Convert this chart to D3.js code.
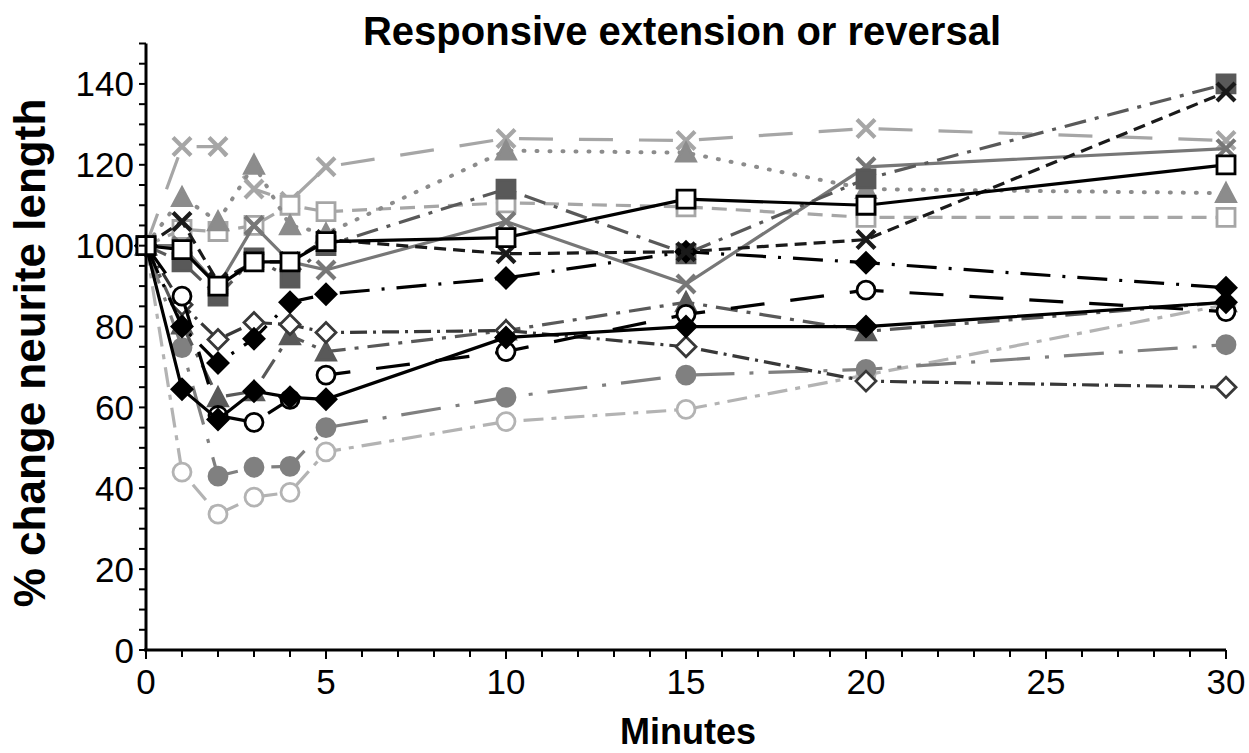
<!DOCTYPE html>
<html>
<head>
<meta charset="utf-8">
<script src="https://cdn.jsdelivr.net/npm/d3@7"></script>
<style>
  body { margin: 0; background: #fff; }
  text { font-family: "Liberation Sans", Arial, sans-serif; }
</style>
</head>
<body>
<script>
// time points (minutes)
const minutes = [0, 1, 2, 3, 4, 5, 10, 15, 20, 30]

// % change neurite length, one array per neurite
const lightX      = [100, 124.5, 124.5, 114, 111, 119.5, 126.5, 126, 129, 126]
const grayTri     = [100, 112, 106, 120, 105, 103, 123.5, 123, 114, 113]
const lightSquare = [100, 104, 103.5, 105, 110, 108.4, 110.6, 109.6, 107, 107]
const grayCircle  = [100, 74.8, 43, 45.2, 45.4, 55, 62.5, 68, 69.4, 75.5]
const lightCircle = [100, 44, 33.6, 37.8, 39, 49, 56.5, 59.5, 68, 85.4]
const darkTri     = [100, 80.5, 62.5, 64, 77.8, 73.8, 79, 86, 78.8, 86]
const openDiamond = [100, 85.4, 76.8, 81, 80.5, 78.5, 79, 75, 66.5, 65]
const grayX       = [100, 100, 90, 105, 96, 94, 106, 90.5, 119.5, 124]
const darkSquare  = [100, 96, 87.5, 97, 92, 100, 114, 98, 116.5, 140]
const dashDiamond = [100, 80, 71, 77, 86, 88, 92, 98.5, 95.8, 89.6]
const openCircle  = [100, 87.5, 58, 56.3, 62, 68, 73.8, 83, 89, 83.7]
const solidDiamond= [100, 64.5, 57, 64, 62.5, 62, 77.3, 80, 80, 86]
const blackX      = [100, 106, 91, 96, 96, 101.5, 98, 98.5, 101.5, 138]
const openSquare  = [100, 99, 90, 96, 96, 101, 102, 111.5, 110, 120]

const yTicks = [0, 20, 40, 60, 80, 100, 120, 140]
const xTicks = [0, 5, 10, 15, 20, 25, 30]

// drawing styles, in drawing order (first = bottom)
const styles = [
  {values: lightCircle,  color: "#b3b3b3", dash: "20,8,5,8",  marker: "circle",   fill: "#fff"},
  {values: grayCircle,   color: "#808080", dash: "40,15,4,15", marker: "circle",  fill: "#808080"},
  {values: lightX,       color: "#a6a6a6", dash: "34,26",     marker: "x",        fill: "none"},
  {values: lightSquare,  color: "#a6a6a6", dash: "15,9",      marker: "square",   fill: "#fff"},
  {values: grayTri,      color: "#8c8c8c", dash: "1,12",      marker: "triangle", fill: "#8c8c8c", cap: "round"},
  {values: darkTri,      color: "#595959", dash: "22,9,4,9",  marker: "triangle", fill: "#595959"},
  {values: openDiamond,  color: "#383838", dash: "17,6,3,6",  marker: "diamond",  fill: "#fff"},
  {values: grayX,        color: "#777777", dash: null,        marker: "x",        fill: "none"},
  {values: darkSquare,   color: "#595959", dash: "22,9,4,9",  marker: "square",   fill: "#595959"},
  {values: dashDiamond,  color: "#000000", dash: "30,12,3,12", marker: "diamond", fill: "#000"},
  {values: openCircle,   color: "#000000", dash: "34,26",     marker: "circle",   fill: "#fff"},
  {values: solidDiamond, color: "#000000", dash: null,        marker: "diamond",  fill: "#000"},
  {values: blackX,       color: "#1a1a1a", dash: "12,7",      marker: "x",        fill: "none"},
  {values: openSquare,   color: "#000000", dash: null,        marker: "square",   fill: "#fff"},
]

const width = 1249
const height = 753

const svg = d3.select("body").append("svg")
    .attr("width", width)
    .attr("height", height)

const x = d3.scaleLinear().domain([0, 30]).range([146, 1226])
const y = d3.scaleLinear().domain([0, 150]).range([650, 43.5])

// marker shapes
function markerPath(type){
    if (type == "square") return d3.symbol(d3.symbolSquare, 18*18)()
    if (type == "circle") return d3.symbol(d3.symbolCircle, Math.PI*9*9)()
    if (type == "triangle") return "M0,-9.5L9.5,8.5L-9.5,8.5Z"
    if (type == "diamond") return "M0,-10L10,0L0,10L-10,0Z"
    if (type == "x") return "M-9,-9L9,9M9,-9L-9,9"
}

// series
const line = d3.line()
    .x((d, i) => x(minutes[i]))
    .y(d => y(d))

styles.forEach(function(s){
    const g = svg.append("g")
    g.append("path")
        .attr("d", line(s.values))
        .attr("fill", "none")
        .attr("stroke", s.color)
        .attr("stroke-width", s.cap ? 4 : 3.2)
        .attr("stroke-linecap", s.cap || "butt")
        .attr("stroke-dasharray", s.dash)

    g.selectAll("path.mk")
        .data(s.values)
        .join("path")
        .attr("class", "mk")
        .attr("transform", (d, i) => "translate(" + x(minutes[i]) + "," + y(d) + ")")
        .attr("d", markerPath(s.marker))
        .attr("fill", s.fill)
        .attr("stroke", s.color)
        .attr("stroke-width", s.marker == "x" ? 4.2 : 2.8)
})

// y axis
const yAxis = svg.append("g")
yAxis.append("line")
    .attr("x1", x(0)).attr("x2", x(0))
    .attr("y1", y(150)).attr("y2", y(0))
    .attr("stroke", "#000").attr("stroke-width", 3)
yAxis.selectAll("line.minor")
    .data(d3.range(0, 151, 5))
    .join("line")
    .attr("class", "minor")
    .attr("x1", x(0) - 7).attr("x2", x(0))
    .attr("y1", d => y(d)).attr("y2", d => y(d))
    .attr("stroke", "#000").attr("stroke-width", 2)
yAxis.selectAll("text")
    .data(yTicks)
    .join("text")
    .attr("x", 134)
    .attr("y", d => y(d) + 12.5)
    .attr("text-anchor", "end")
    .attr("font-size", 35)
    .text(d => d)

// x axis
const xAxis = svg.append("g")
xAxis.append("line")
    .attr("x1", x(0) - 2).attr("x2", x(30))
    .attr("y1", y(0)).attr("y2", y(0))
    .attr("stroke", "#000").attr("stroke-width", 3)
xAxis.selectAll("line.minor")
    .data(d3.range(0, 31, 1))
    .join("line")
    .attr("class", "minor")
    .attr("x1", d => x(d)).attr("x2", d => x(d))
    .attr("y1", y(0)).attr("y2", d => y(0) + (d % 5 == 0 ? 9 : 7))
    .attr("stroke", "#000").attr("stroke-width", 2)
xAxis.selectAll("text")
    .data(xTicks)
    .join("text")
    .attr("x", d => x(d))
    .attr("y", 694)
    .attr("text-anchor", "middle")
    .attr("font-size", 35)
    .text(d => d)

// titles
svg.append("text")
    .attr("x", 682).attr("y", 45)
    .attr("text-anchor", "middle")
    .attr("font-size", 40).attr("font-weight", "bold")
    .text("Responsive extension or reversal")

svg.append("text")
    .attr("x", 688).attr("y", 744)
    .attr("text-anchor", "middle")
    .attr("font-size", 36).attr("font-weight", "bold")
    .text("Minutes")

svg.append("text")
    .attr("transform", "translate(45,353) rotate(-90)")
    .attr("text-anchor", "middle")
    .attr("font-size", 44).attr("font-weight", "bold")
    .text("% change neurite length")
</script>
</body>
</html>
